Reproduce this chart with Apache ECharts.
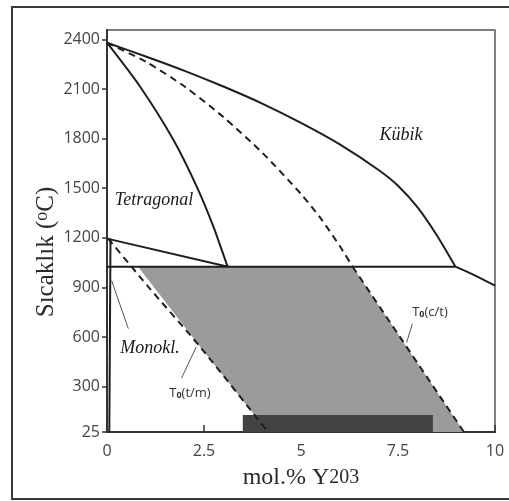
<!DOCTYPE html>
<html>
<head>
<meta charset="utf-8">
<script src="https://cdn.jsdelivr.net/npm/echarts@6/dist/echarts.min.js"></script>
<style>
html, body { margin: 0; padding: 0; background: #fff; }
#chart { width: 509px; height: 501px; }
</style>
</head>
<body>
<div id="chart"></div>
<script>
// eksen değerleri
var xTicks = [0, 2.5, 5, 7.5, 10]
var yTicks = [25, 300, 600, 900, 1200, 1500, 1800, 2100, 2400]

// faz sınırları (mol.% Y2O3, °C)
var cubicLine = [[0, 2380], [1, 2297], [2, 2210], [3, 2115], [4, 2012], [5, 1895], [6, 1765], [7, 1610], [7.5, 1515], [8, 1385], [8.5, 1215], [8.98, 1025]]
var cubicTail = [[8.98, 1025], [9.44, 977], [10, 910]]
var tetraLine = [[0, 2380], [0.85, 2115], [1.71, 1793], [2.31, 1511], [2.74, 1269], [3.09, 1038], [3.12, 1025]]
var ctDashUpper = [[0, 2380], [1, 2265], [2, 2115], [3, 1930], [4, 1715], [5, 1465], [5.5, 1320], [6, 1150], [6.33, 1025]]
var ctDashLower = [[6.33, 1025], [9.2, 25]]
var tmDash = [[0.03, 1195], [1.06, 905], [2.4, 540], [4.15, 25]]
var tetraMonoLine = [[0, 1195], [3.12, 1025]]
var eutectoid = [[0, 1025], [8.98, 1025]]
var monoLine = [[0.09, 1195], [0.06, 25]]

// gri bölge ve koyu bant
var grayArea = [[0.8, 1025], [6.33, 1025], [9.2, 25], [4.15, 25], [2.4, 540]]
var darkBar = [[3.5, 25], [8.4, 128]]

// etiket çizgileri
var leaderTM = [[1.92, 350], [2.3, 540]]
var leaderCT = [[7.72, 565], [7.87, 680]]
var leaderMono = [[0.12, 940], [0.55, 650]]

var myChart = echarts.init(document.getElementById('chart'))

function lineSeries(data, opts) {
  return {
    type: 'line',
    data: data,
    symbol: 'none',
    silent: true,
    smooth: opts.smooth || false,
    z: 3,
    lineStyle: {
      color: opts.color || '#1e1e1e',
      width: opts.width || 2,
      type: opts.dash ? [7, 5] : 'solid'
    }
  }
}

var serif = '"Liberation Serif", "DejaVu Serif", serif'
var sans = '"Open Sans", "Noto Sans", sans-serif'

var option = {
  animation: false,
  grid: {
    left: 107,
    right: 14,
    top: 30,
    bottom: 69,
    show: true,
    borderColor: '#555',
    borderWidth: 1.5
  },
  xAxis: {
    type: 'value',
    min: 0,
    max: 10,
    interval: 2.5,
    name: '{a|mol.% Y}{b|203}',
    nameLocation: 'middle',
    nameGap: 34,
    nameTextStyle: {
      rich: {
        a: { fontFamily: serif, fontSize: 24, color: '#2a2a2a' },
        b: { fontFamily: serif, fontSize: 20, color: '#2a2a2a' }
      }
    },
    axisLine: { lineStyle: { color: '#333', width: 2 } },
    axisTick: { inside: true, length: 7, lineStyle: { color: '#333', width: 1.5 } },
    axisLabel: { fontFamily: sans, fontSize: 16, color: '#444', margin: 11 },
    splitLine: { show: false }
  },
  yAxis: {
    type: 'value',
    min: 25,
    max: 2457,
    axisLine: { show: true, lineStyle: { color: '#333', width: 2 } },
    axisTick: { show: true, customValues: yTicks, length: 5, lineStyle: { color: '#333', width: 1.5 } },
    axisLabel: {
      customValues: yTicks,
      formatter: function (v) { return String(v) },
      fontFamily: sans, fontSize: 16, color: '#444', margin: 7
    },
    splitLine: { show: false }
  },
  graphic: [
    {
      type: 'rect',
      shape: { x: 12, y: 7, width: 520, height: 492 },
      style: { fill: 'none', stroke: '#3a3a3a', lineWidth: 2 },
      silent: true
    },
    {
      type: 'text',
      x: 46, y: 252,
      rotation: Math.PI / 2,
      style: {
        text: '{a|Sıcaklık (}{b|o}{a|C)}',
        align: 'center',
        verticalAlign: 'middle',
        rich: {
          a: { fontFamily: serif, fontSize: 25, fill: '#2a2a2a' },
          b: { fontFamily: serif, fontSize: 18, fill: '#2a2a2a', verticalAlign: 'top' }
        }
      }
    },
    {
      type: 'text', x: 401, y: 135,
      style: { text: 'Kübik', font: 'italic 18px ' + serif, fill: '#1a1a1a', align: 'center', verticalAlign: 'middle' }
    },
    {
      type: 'text', x: 154, y: 200,
      style: { text: 'Tetragonal', font: 'italic 18px ' + serif, fill: '#1a1a1a', align: 'center', verticalAlign: 'middle' }
    },
    {
      type: 'text', x: 150, y: 348,
      style: { text: 'Monokl.', font: 'italic 18px ' + serif, fill: '#1a1a1a', align: 'center', verticalAlign: 'middle' }
    },
    {
      type: 'text', x: 190, y: 393,
      style: {
        text: '{a|T}{s|0}{a|(t/m)}',
        align: 'center',
        verticalAlign: 'middle',
        rich: {
          a: { fontFamily: sans, fontSize: 13, fill: '#333' },
          s: { fontFamily: sans, fontSize: 9, fill: '#333', fontWeight: 'bold', verticalAlign: 'bottom' }
        }
      }
    },
    {
      type: 'text', x: 430, y: 312,
      style: {
        text: '{a|T}{s|0}{a|(c/t)}',
        align: 'center',
        verticalAlign: 'middle',
        rich: {
          a: { fontFamily: sans, fontSize: 13, fill: '#333' },
          s: { fontFamily: sans, fontSize: 9, fill: '#333', fontWeight: 'bold', verticalAlign: 'bottom' }
        }
      }
    }
  ],
  series: [
    {
      type: 'custom',
      silent: true,
      z: 1,
      data: [grayArea[0]],
      renderItem: function (params, api) {
        return {
          type: 'polygon',
          shape: { points: grayArea.map(function (p) { return api.coord(p) }) },
          style: { fill: '#9b9b9b' }
        }
      }
    },
    {
      type: 'custom',
      silent: true,
      z: 2,
      data: [darkBar[0]],
      renderItem: function (params, api) {
        var p0 = api.coord(darkBar[0])
        var p1 = api.coord(darkBar[1])
        return {
          type: 'rect',
          shape: { x: p0[0], y: p1[1], width: p1[0] - p0[0], height: p0[1] - p1[1] },
          style: { fill: '#434343' }
        }
      }
    },
    lineSeries(cubicLine, { smooth: 0.25 }),
    lineSeries(cubicTail, { smooth: 0.25 }),
    lineSeries(tetraLine, { smooth: 0.25 }),
    lineSeries(ctDashUpper, { smooth: 0.25, dash: true }),
    lineSeries(ctDashLower, { dash: true }),
    lineSeries(tmDash, { smooth: 0.25, dash: true }),
    lineSeries(tetraMonoLine, {}),
    lineSeries(eutectoid, {}),
    lineSeries(monoLine, {}),
    lineSeries(leaderTM, { width: 1, color: '#555' }),
    lineSeries(leaderCT, { width: 1, color: '#555' }),
    lineSeries(leaderMono, { width: 1, color: '#555' })
  ]
}

myChart.setOption(option)
</script>
</body>
</html>
